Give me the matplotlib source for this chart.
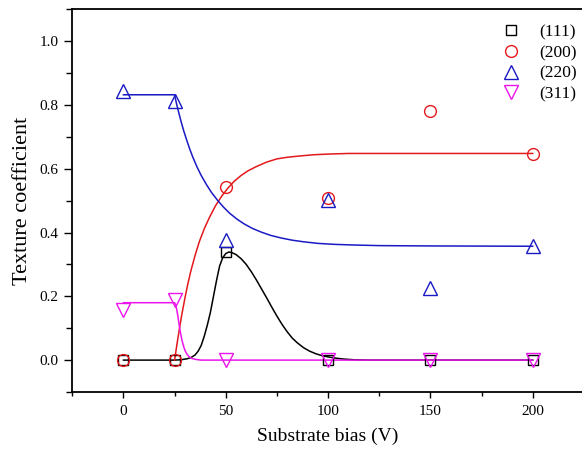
import matplotlib
matplotlib.use("Agg")
import matplotlib.pyplot as plt
from matplotlib.ticker import MultipleLocator, FormatStrFormatter

plt.rcParams["font.family"] = ["Liberation Serif", "DejaVu Serif"]

# measured points
bias = [0, 25, 50, 100, 150, 200]
tc_111 = [0, 0, 0.34, 0, 0, 0]
tc_200 = [0, 0, 0.542, 0.508, 0.78, 0.645]
tc_220 = [0.843, 0.811, 0.377, 0.501, 0.225, 0.358]
tc_311 = [0.157, 0.189, 0, 0, 0, 0]

# fitted curves
fit_111_x = [0, 25, 28, 31, 33, 35, 36.5, 38, 39.5, 41, 42.5, 44, 45.5, 47, 48.5, 50, 51.5, 53, 55,
             57.5, 60, 62.5, 65, 67.5, 70, 72.5, 75, 77.5, 80, 82.5, 85, 88, 91, 94, 97, 100, 104,
             108, 113, 120, 200]
fit_111_y = [0, 0, 0.001, 0.004, 0.008, 0.016, 0.028, 0.046, 0.075, 0.11, 0.15, 0.2, 0.25, 0.295,
             0.321, 0.334, 0.339, 0.337, 0.331, 0.318, 0.3, 0.277, 0.251, 0.223, 0.195, 0.166, 0.138,
             0.112, 0.089, 0.069, 0.054, 0.039, 0.028, 0.02, 0.014, 0.01, 0.006, 0.003, 0.001, 0, 0]

fit_200_x = [25, 25.5, 26.5, 27.5, 28.5, 30, 31.5, 33, 35, 37, 39.5, 42, 45, 48, 51, 54, 57.5, 61,
             65, 70, 75, 80, 86, 93, 100, 110, 200]
fit_200_y = [0, 0.022, 0.064, 0.104, 0.142, 0.193, 0.24, 0.281, 0.328, 0.37, 0.412, 0.447, 0.484,
             0.514, 0.539, 0.56, 0.579, 0.594, 0.607, 0.621, 0.631, 0.636, 0.64, 0.644, 0.646,
             0.648, 0.648]

fit_220_x = [0, 25, 25.8, 26.8, 28, 29.5, 31, 32.5, 34, 36, 38, 40.5, 43, 46, 49, 52, 55.5, 59, 63,
             67.5, 72, 77, 82.5, 88, 95, 103, 112, 125, 150, 200]
fit_220_y = [0.832, 0.832, 0.808, 0.782, 0.752, 0.718, 0.688, 0.66, 0.635, 0.605, 0.579, 0.551,
             0.526, 0.501, 0.479, 0.46, 0.442, 0.427, 0.413, 0.401, 0.391, 0.383, 0.376, 0.371,
             0.366, 0.363, 0.361, 0.359, 0.358, 0.357]

fit_311_x = [0, 25, 25.5, 26, 26.6, 27.2, 27.8, 28.5, 29.3, 30.1, 31, 32, 33.5, 35.5, 38, 200]
fit_311_y = [0.18, 0.18, 0.174, 0.16, 0.138, 0.112, 0.088, 0.065, 0.045, 0.03, 0.019, 0.011,
             0.005, 0.002, 0.0, 0.0]

c_111 = "black"
c_200 = "#e3191c"
c_220 = "#1a1ac4"
c_311 = "#ec13ec"

fig = plt.figure(figsize=(5.82, 4.5), dpi=100)
ax = fig.add_axes([0.1242, 0.1289, 0.879, 0.8504])

# curves
ax.plot(fit_111_x, fit_111_y, color=c_111, lw=1.1)
ax.plot(fit_200_x, fit_200_y, color=c_200, lw=1.1)
ax.plot(fit_220_x, fit_220_y, color=c_220, lw=1.1)
ax.plot(fit_311_x, fit_311_y, color=c_311, lw=1.1)

# points
ax.plot(bias, tc_111, "s", ms=7.5, mfc="none", mec=c_111, mew=1.0, label="(111)")
ax.plot(bias, tc_200, "o", ms=8.5, mfc="none", mec=c_200, mew=1.0, label="(200)")
ax.plot(bias, tc_220, "^", ms=9.5, mfc="none", mec=c_220, mew=1.0, label="(220)")
ax.plot(bias, tc_311, "v", ms=9.5, mfc="none", mec=c_311, mew=1.0, label="(311)")

ax.set_xlim(-25, 225)
ax.set_ylim(-0.1, 1.1)
ax.xaxis.set_major_locator(MultipleLocator(50))
ax.xaxis.set_minor_locator(MultipleLocator(25))
ax.yaxis.set_major_locator(MultipleLocator(0.2))
ax.yaxis.set_minor_locator(MultipleLocator(0.1))
ax.yaxis.set_major_formatter(FormatStrFormatter("%.1f"))

ax.tick_params(axis="x", which="major", direction="out", length=4.5, width=1.0, labelsize=11, pad=5)
ax.tick_params(axis="x", which="minor", direction="out", length=3, width=1.0)
ax.tick_params(axis="y", which="major", direction="out", length=6, width=1.0, labelsize=11, pad=4)
ax.tick_params(axis="y", which="minor", direction="out", length=4.5, width=1.0)
for s in ax.spines.values():
    s.set_linewidth(1.3)

ax.set_xlabel("Substrate bias (V)", fontsize=14, labelpad=7)
ax.set_ylabel("Texture coefficient", fontsize=16, labelpad=5)

ax.legend(loc="upper right", bbox_to_anchor=(1.0, 0.958), bbox_transform=fig.transFigure,
          frameon=False, fontsize=12.5, labelspacing=0.26, handletextpad=0.85, handlelength=1.5,
          borderaxespad=0, borderpad=0.3)

fig.savefig("out.png", dpi=100)
